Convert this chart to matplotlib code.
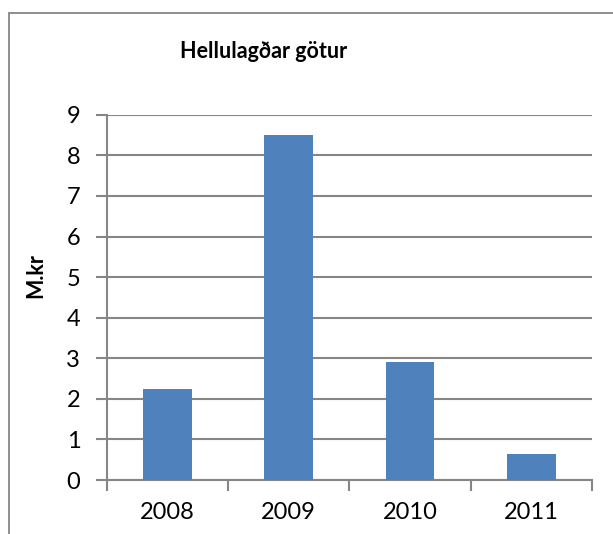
import matplotlib
matplotlib.use("Agg")
import matplotlib.pyplot as plt
from matplotlib.patches import Rectangle

# Chart data
years = ["2008", "2009", "2010", "2011"]
values = [2.25, 8.5, 2.91, 0.63]
y_ticks = [0, 1, 2, 3, 4, 5, 6, 7, 8, 9]

plt.rcParams["font.family"] = ["Lato", "DejaVu Sans"]

grey = "#868686"
fig = plt.figure(figsize=(6.13, 5.34), dpi=100)

# Outer chart border (runs off right and bottom edge)
fig.patches.append(Rectangle((9 / 613, -0.05), 1.1, 1 - 13 / 534 + 0.05,
                             transform=fig.transFigure, fill=False,
                             edgecolor=grey, linewidth=1.3))

ax = fig.add_axes([0.174, 0.101, 0.792, 0.684])
x = range(len(years))
ax.bar(x, values, width=0.4, color="#4F81BD", zorder=3)

ax.set_xlim(-0.5, len(years) - 0.5)
ax.set_ylim(0, 9)
ax.set_yticks(y_ticks)
ax.set_xticks(list(x))
ax.set_xticklabels(years)
ax.set_xticks([i - 0.5 for i in range(len(years) + 1)], minor=True)

ax.grid(axis="y", color=grey, linewidth=1.5, zorder=0)
for side in ["top", "right"]:
    ax.spines[side].set_visible(False)
for side in ["left", "bottom"]:
    ax.spines[side].set_color(grey)
    ax.spines[side].set_linewidth(1.5)

ax.tick_params(axis="y", length=8, width=1.5, color=grey, labelsize=17, pad=11)
ax.tick_params(axis="x", which="major", length=0, labelsize=17, pad=16)
ax.tick_params(axis="x", which="minor", length=8, width=1.5, color=grey)

fig.text(264 / 613, 1 - 51 / 534, "Hellulagðar götur", ha="center", va="center",
         fontsize=15.5, fontweight="bold")
fig.text(36 / 613, 1 - 276 / 534, "M.kr", ha="center", va="center",
         rotation=90, fontsize=15.5, fontweight="bold")

fig.savefig("out.png", dpi=100)
